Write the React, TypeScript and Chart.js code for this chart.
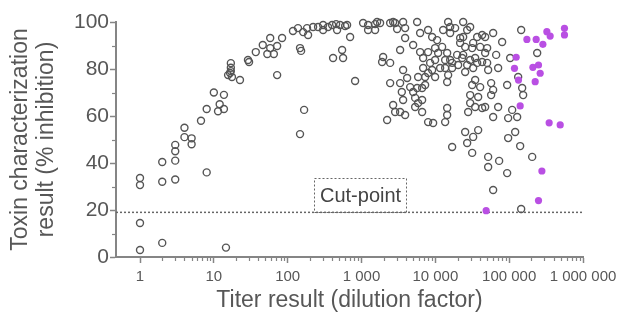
import { useEffect, useRef } from "react";
import { Chart, registerables } from "chart.js";
Chart.register(...registerables);

// [titer (dilution factor), % inhibition]
const grayPoints: [number, number][] = [
  [1, 33.6], [1, 30.6], [1, 14.5], [1, 3], [2, 40.4], [2, 32], [2, 6],
  [3, 47.7], [3, 45], [3, 41], [3, 33], [4, 55], [4, 51], [5, 50.5], [5, 48],
  [6.7, 58], [8, 63], [8, 36], [10, 70], [12, 65], [11.4, 62], [13.7, 69], [13.7, 63],
  [14.6, 4], [17, 82.5], [17, 80.5], [16.6, 78.3], [17.6, 76.6], [15.6, 77.4], [17, 79.1],
  [22.6, 75.3], [29, 83.8], [30, 83], [37, 87.2], [46, 90.2], [53, 86.4], [58, 93.2],
  [58, 88.9], [65, 86.4], [72, 89.8], [84, 93.2], [72, 77.4], [118, 96.2], [138, 97.4],
  [147, 88.9], [152, 87.7], [162, 95.7], [167, 62.6], [147, 52.3], [183, 97.4], [189, 94.5],
  [221, 97.9], [258, 97.9], [302, 98.7], [302, 96.6], [352, 97.9], [400, 98.7], [453, 99.1],
  [467, 96.6], [513, 98.7], [600, 98.3], [638, 98.7], [701, 93.6], [412, 84.7], [546, 88.1],
  [563, 84.7], [819, 74.9],
  [1051, 99.6], [1228, 98.7], [1228, 96.6], [1528, 96.6], [1626, 100], [1528, 99.1],
  [1786, 99.6], [2443, 99.6], [2682, 100], [2853, 99.6], [3036, 97], [3661, 100], [3898, 97.4],
  [5667, 100], [6223, 95.3], [7983, 96.6], [9055, 93.6], [10570, 92.3], [9930, 88.9],
  [12360, 89.4], [12760, 96.6], [14910, 100], [15870, 95.3], [18550, 97.4], [21680, 93.2],
  [23820, 100], [26980, 96.6], [15870, 97.9], [3334, 88.1], [1963, 85.1], [1901, 83],
  [2443, 82.6], [3898, 93.2], [5005, 90.2], [6223, 87.2], [7983, 87.2], [6834, 84.7],
  [8505, 82.6], [9930, 83.8], [10910, 86.8], [14460, 86.8], [15870, 83.8], [19740, 86],
  [23080, 84.7], [20370, 81.7], [25350, 89.4], [16890, 82.6], [6834, 80.4], [9055, 79.6],
  [11610, 80.4], [13580, 80.4], [7983, 78.3], [5848, 76.6], [7275, 76.6], [9930, 76.6],
  [3661, 79.6], [4150, 76.2], [2443, 74], [3515, 70.2], [4560, 72.3], [5005, 70.2],
  [5667, 71.9], [6622, 71.9], [7275, 73.2], [5326, 67.7], [6622, 66.8], [3661, 66.8],
  [2682, 64.7], [2853, 61.7], [2223, 58.3], [3898, 60.4], [6622, 61.7], [7983, 57.4],
  [9339, 57], [13580, 57.4], [14460, 60.4], [14460, 63.4], [25350, 53.2], [3334, 61.7],
  [5326, 63.8], [5848, 65.5], [13580, 83.8], [14460, 74.5], [14910, 77.4], [16890, 80.4],
  [3334, 74], [23820, 93.6], [21680, 91.1], [23820, 86],
  [16890, 46.8], [26980, 48.5], [31540, 44.3], [32540, 51.1], [38030, 54], [51920, 42.6],
  [51920, 38.3], [73140, 40.9], [93900, 35.7], [60670, 28.5], [96900, 50.6], [120600, 53.2],
  [140900, 47.2], [205000, 42.6], [145400, 20.4],
  [29630, 97.9], [36870, 93.6], [43070, 94.5], [47290, 93.6], [60670, 95.3], [80300, 91.5],
  [29630, 83.8], [31540, 88.9], [32540, 91.1], [34640, 84.7], [36870, 82.6], [40460, 89.4],
  [43070, 83], [50330, 88.9], [47290, 86.8], [50330, 82.6], [51920, 79.6], [32540, 80.4],
  [26980, 81.7], [25350, 78.7], [66630, 86], [70900, 80.4], [34640, 75.3], [31540, 73.2],
  [40460, 72.3], [57000, 74], [60670, 71.1], [57000, 68.9], [93900, 73.2], [29630, 68.9],
  [29630, 65.5], [34640, 63.8], [43070, 63.4], [47290, 63.8], [38030, 68.1], [70900, 63.8],
  [60670, 59.6], [27830, 61.7], [109800, 62.6], [96900, 59.1], [128300, 59.6], [150000, 71.9],
  [154700, 68.9], [103200, 84.7], [132400, 76.6], [145400, 96.6], [239600, 86.8],
];

const purplePoints: [number, number][] = [
  [173800, 92.6], [232200, 92.6], [324000, 95.9], [359000, 94], [561000, 97.3], [561000, 94.5],
  [286000, 90.5], [124400, 85], [118000, 80.3], [133700, 75.3], [209600, 80.7], [249600, 81.7],
  [263000, 78.2], [225100, 74.6], [140900, 64.3], [348000, 57.1], [491000, 56.2], [277500, 36.6],
  [249600, 24], [48780, 19.7],
];

const cutPoint = 19;
const cutLabel = "Cut-point";
const cutLabelCenterTiter = 950;

const xMin = 0.473;
const xMax = 1000000;
const xMajorTicks = [1, 10, 100, 1000, 10000, 100000, 1000000];
const xTickLabels = ["1", "10", "100", "1 000", "10 000", "100 000", "1 000 000"];
const xMinorMultipliers = [2, 3, 4, 5, 6, 7, 8, 9];
const yMajorTicks = [0, 20, 40, 60, 80, 100];
const yTickLabels = ["0", "20", "40", "60", "80", "100"];
const yMinorTicks = [10, 30, 50, 70, 90];

const xTitle = "Titer result (dilution factor)";
const yTitle = ["Toxin characterization", "result (% inhibition)"];

const AXIS = "#858585";
const TEXT = "#575757";
const FONT = "'Liberation Sans', Arial, sans-serif";

export default function App() {
  const ref = useRef<HTMLCanvasElement | null>(null);

  useEffect(() => {
    if (!ref.current) return;
    Chart.defaults.font.family = FONT;

    const xMinorTicks: number[] = [];
    xMajorTicks.slice(0, -1).forEach((d) => xMinorMultipliers.forEach((m) => xMinorTicks.push(d * m)));

    const extras = {
      id: "extras",
      afterDraw(chart: any) {
        const { ctx, chartArea, scales } = chart;
        const xs = scales.x;
        const ys = scales.y;
        ctx.save();
        ctx.strokeStyle = AXIS;
        ctx.lineWidth = 1.2;
        xMinorTicks.forEach((v) => {
          const px = Math.round(xs.getPixelForValue(v)) + 0.5;
          ctx.beginPath();
          ctx.moveTo(px, chartArea.bottom);
          ctx.lineTo(px, chartArea.bottom + 4);
          ctx.stroke();
        });
        yMinorTicks.forEach((v) => {
          const py = Math.round(ys.getPixelForValue(v)) + 0.5;
          ctx.beginPath();
          ctx.moveTo(chartArea.left - 4, py);
          ctx.lineTo(chartArea.left, py);
          ctx.stroke();
        });
        // cut-point label box
        const cx = xs.getPixelForValue(cutLabelCenterTiter);
        const yLine = ys.getPixelForValue(cutPoint);
        ctx.font = `20px ${FONT}`;
        const tw = ctx.measureText(cutLabel).width;
        const w = tw + 11;
        const h = 34;
        const left = Math.round(cx - w / 2) + 0.5;
        const top = Math.round(yLine - h) + 0.5;
        ctx.setLineDash([2, 2]);
        ctx.strokeStyle = "#666";
        ctx.lineWidth = 1;
        ctx.strokeRect(left, top, Math.round(w), h);
        ctx.setLineDash([]);
        ctx.fillStyle = "#444";
        ctx.textAlign = "center";
        ctx.textBaseline = "middle";
        ctx.fillText(cutLabel, left + w / 2, top + h / 2 + 1);
        ctx.restore();
      },
    };

    const chart = new Chart(ref.current, {
      type: "scatter",
      data: {
        datasets: [
          {
            label: "purple",
            data: purplePoints.map(([x, y]) => ({ x, y })),
            pointRadius: 3.6,
            pointBorderWidth: 0,
            pointBackgroundColor: "#b94fe3",
            pointBorderColor: "#b94fe3",
            clip: false,
          } as any,
          {
            label: "gray",
            data: grayPoints.map(([x, y]) => ({ x, y })),
            pointRadius: 3.5,
            pointBorderWidth: 1.4,
            pointBackgroundColor: "rgba(0,0,0,0)",
            pointBorderColor: "#555555",
            clip: false,
          } as any,
          {
            type: "line",
            label: "cut",
            data: [
              { x: xMin, y: cutPoint },
              { x: xMax, y: cutPoint },
            ],
            borderColor: "#666",
            borderWidth: 1.5,
            borderDash: [2, 2],
            pointRadius: 0,
            showLine: true,
          } as any,
        ],
      },
      options: {
        animation: false,
        responsive: false,
        devicePixelRatio: 1,
        layout: { padding: { top: 22, right: 37, bottom: 0, left: 0 } },
        plugins: { legend: { display: false }, tooltip: { enabled: false } },
        scales: {
          x: {
            type: "logarithmic",
            position: "bottom",
            min: xMin,
            max: xMax,
            afterBuildTicks: (s: any) => {
              s.ticks = xMajorTicks.map((v) => ({ value: v, major: true }));
            },
            afterFit: (s: any) => {
              s.height = 61;
              s.paddingLeft = 0;
              s.paddingRight = 0;
            },
            ticks: {
              autoSkip: false,
              maxRotation: 0,
              padding: 5,
              color: TEXT,
              font: { size: 15 },
              callback: (_v: any, i: number) => xTickLabels[i],
            },
            grid: {
              drawOnChartArea: false,
              drawTicks: true,
              tickLength: 6,
              color: AXIS,
              tickWidth: 1.5,
            },
            border: { display: true, color: AXIS, width: 2 },
            title: {
              display: true,
              text: xTitle,
              color: TEXT,
              font: { size: 23 },
              padding: { top: 0, bottom: 4 },
            },
          } as any,
          y: {
            type: "linear",
            min: 0,
            max: 100,
            afterBuildTicks: (s: any) => {
              s.ticks = yMajorTicks.map((v) => ({ value: v }));
            },
            afterFit: (s: any) => {
              s.width = 116;
              s.paddingTop = 0;
              s.paddingBottom = 0;
            },
            ticks: {
              padding: 1,
              color: TEXT,
              font: { size: 21 },
              callback: (_v: any, i: number) => yTickLabels[i],
            },
            grid: {
              drawOnChartArea: false,
              drawTicks: true,
              tickLength: 6,
              color: AXIS,
              tickWidth: 1.5,
            },
            border: { display: true, color: AXIS, width: 2 },
            title: {
              display: true,
              text: yTitle,
              color: TEXT,
              font: { size: 23, lineHeight: 1.15 },
              padding: { top: 7, bottom: 0 },
            },
          } as any,
        },
      },
      plugins: [extras],
    });
    return () => chart.destroy();
  }, []);

  return (
    <div style={{ position: "absolute", left: 0, top: 0, width: 620, height: 318, background: "#fff" }}>
      <canvas ref={ref} width={620} height={318} style={{ display: "block" }} />
    </div>
  );
}
